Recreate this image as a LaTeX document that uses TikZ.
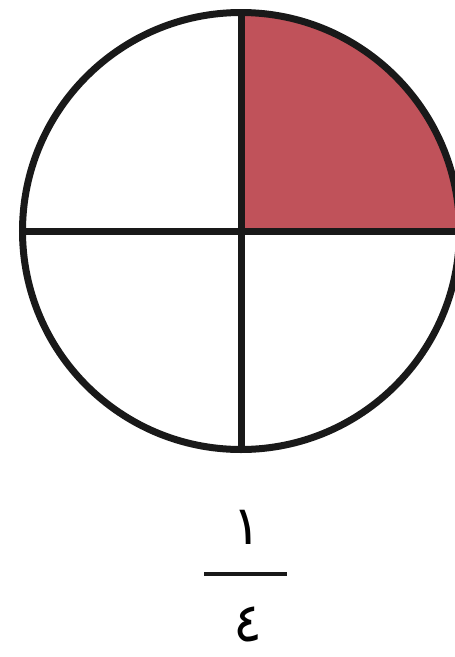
\documentclass[tikz,border=0pt]{standalone}
\usepackage{fontspec}
\newfontfamily\arabicfont[Script=Arabic]{DejaVu Sans}
\definecolor{quartred}{RGB}{192,82,90}
\begin{document}
\begin{tikzpicture}[x=1pt,y=-1pt,
  outline/.style={line width=7pt,black!90},
  digit/.style={font=\arabicfont\fontsize{54}{54}\selectfont,inner sep=0pt}]
\useasboundingbox (0,0) rectangle (455,657);
\fill[white] (0,0) rectangle (455,657);
\begin{scope}
\clip (0,0) rectangle (455,657);
\coordinate (c) at (241,231);
\fill[quartred] (c) -- (241,12) arc[start angle=90,end angle=0,x radius=219,y radius=-219] -- cycle;
\draw[outline] (c) circle[radius=218.5];
\draw[outline] (241,12) -- (241,450);
\draw[outline] (22,231) -- (460,231);
\end{scope}
\node[digit] (num) at (247,527) {١};
\coordinate (bl) at (204,574);
\coordinate (br) at (287,574);
\draw[line width=4pt,black!90] (bl) -- (br);
\node[digit] (den) at (248,624) {٤};
\end{tikzpicture}
\end{document}
